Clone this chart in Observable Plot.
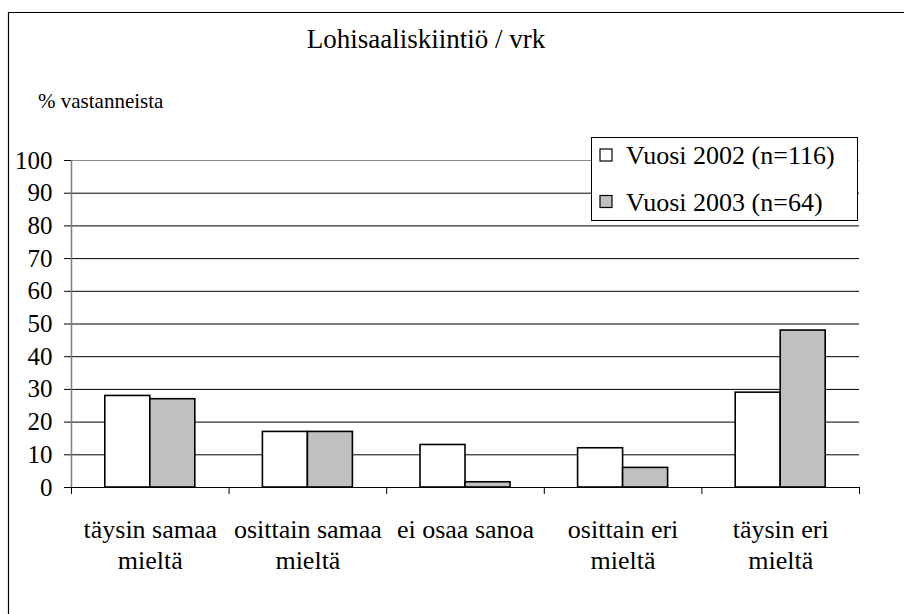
<!DOCTYPE html>
<html>
<head>
<meta charset="utf-8">
<script src="https://cdn.jsdelivr.net/npm/d3@7"></script>
<script src="https://cdn.jsdelivr.net/npm/@observablehq/plot@0.6"></script>
<style>
  html, body { margin: 0; padding: 0; background: #fff; }
  #chart { width: 904px; height: 614px; }
  #chart svg, #chart svg text { font-family: "Liberation Serif", "Times New Roman", serif; }
</style>
</head>
<body>
<div id="chart"></div>
<script>
// ---- data ----
const categories = ["täysin samaa\nmieltä", "osittain samaa\nmieltä", "ei osaa sanoa", "osittain eri\nmieltä", "täysin eri\nmieltä"];
const seriesNames = ["Vuosi 2002 (n=116)", "Vuosi 2003 (n=64)"];
const values2002 = [28, 17, 13, 12, 29];
const values2003 = [27, 17, 1.6, 6, 48];
const yTicks = [0, 10, 20, 30, 40, 50, 60, 70, 80, 90, 100];
const titleText = "Lohisaaliskiintiö / vrk";
const yLabelText = "% vastanneista";
const seriesColors = ["#ffffff", "#c0c0c0"];

// table built from arrays
const seriesValues = [values2002, values2003];
const rows = [];
categories.forEach((c, i) => {
  seriesValues.forEach((vals, k) => {
    rows.push({index: i, category: c, series: seriesNames[k], k, value: vals[i]});
  });
});
const barShare = 45 / 157.6; // bar width as share of a category slot

const font = "Liberation Serif, Times New Roman, serif";

const plot = Plot.plot({
  width: 904,
  height: 614,
  marginLeft: 71,
  marginRight: 45,
  marginTop: 160,
  marginBottom: 127,
  style: {background: "#fff", color: "#000"},
  x: {domain: [0, categories.length], axis: null},
  y: {domain: [0, 100], axis: null},
  color: {domain: seriesNames, range: seriesColors},
  marks: [
    Plot.ruleY(yTicks.filter(d => d > 0 && d < 100), {stroke: "#000", strokeWidth: 1}),
    Plot.ruleY([100], {stroke: "#888", strokeWidth: 1}),
    Plot.ruleX([0], {stroke: "#808080", strokeWidth: 1.5}),
    Plot.axisY({ticks: yTicks, tickSize: 7, tickPadding: 12, fontSize: 25, label: null, stroke: "#000", strokeOpacity: 1, tickFormat: d => String(d)}),
    Plot.axisX({ticks: d3.range(0, categories.length + 1), tickSize: 7, tickFormat: () => "", label: null, stroke: "#000", strokeOpacity: 1}),
    Plot.rectY(rows, {
      x1: d => d.index + 0.5 - (d.k === 0 ? barShare : 0),
      x2: d => d.index + 0.5 + (d.k === 1 ? barShare : 0),
      y1: 0,
      y2: "value",
      fill: "series",
      stroke: "#000",
      strokeWidth: 1.6
    }),
    Plot.ruleY([0], {stroke: "#000", strokeWidth: 1.2}),
    Plot.text(categories, {
      x: (d, i) => i + 0.5,
      frameAnchor: "bottom",
      lineAnchor: "top",
      dy: 28,
      lineHeight: 1.2,
      fontSize: 26,
      fill: "#000",
      text: d => d
    })
  ]
});

document.getElementById("chart").appendChild(plot);

// ---- title, subtitle, frame and legend drawn into the same SVG ----
const svg = d3.select(plot);
svg.attr("font-family", font);
svg.selectAll("text").attr("font-family", font);

svg.append("path")
  .attr("d", "M8.5,614V12.5H904")
  .attr("fill", "none").attr("stroke", "#000").attr("stroke-width", 1.2);

svg.append("text")
  .attr("x", 426).attr("y", 48)
  .attr("text-anchor", "middle")
  .attr("font-family", font).attr("font-size", 27)
  .attr("fill", "#000")
  .text(titleText);

svg.append("text")
  .attr("x", 38).attr("y", 108)
  .attr("text-anchor", "start")
  .attr("font-family", font).attr("font-size", 21)
  .attr("fill", "#000")
  .text(yLabelText);

const lg = svg.append("g");
lg.append("rect")
  .attr("x", 591.5).attr("y", 137.5).attr("width", 266).attr("height", 83)
  .attr("fill", "#fff").attr("stroke", "#000").attr("stroke-width", 1);
seriesNames.forEach((name, i) => {
  const cy = 155 + i * 46.5;
  lg.append("rect")
    .attr("x", 600).attr("y", cy - 6).attr("width", 12).attr("height", 12)
    .attr("fill", seriesColors[i]).attr("stroke", "#000").attr("stroke-width", 1.2);
  lg.append("text")
    .attr("x", 626).attr("y", cy).attr("dy", "0.35em")
    .attr("text-anchor", "start")
    .attr("font-family", font).attr("font-size", 26)
    .attr("fill", "#000")
    .text(name);
});
</script>
</body>
</html>
